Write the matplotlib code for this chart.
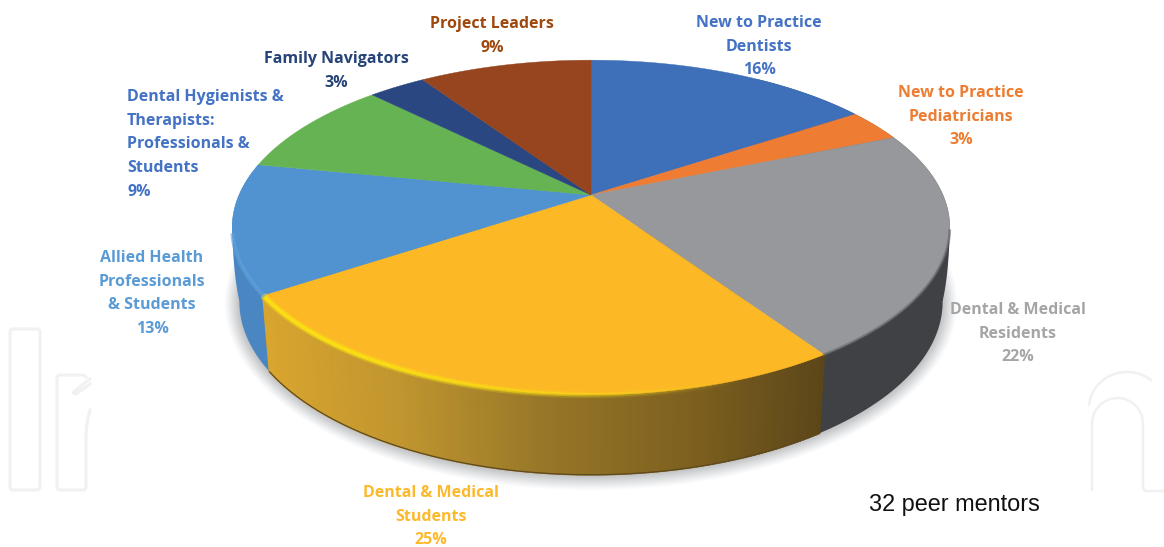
import numpy as np
import matplotlib
matplotlib.use("Agg")
import matplotlib.pyplot as plt
from matplotlib.collections import PolyCollection, LineCollection
from matplotlib.colors import to_rgb
from matplotlib.patches import FancyBboxPatch

# Head count of the 32 peer mentors per group, clockwise from twelve o'clock
groups = ["New to Practice\nDentists", "New to Practice\nPediatricians",
          "Dental & Medical\nResidents", "Dental & Medical\nStudents",
          "Allied Health\nProfessionals\n& Students",
          "Dental Hygienists &\nTherapists:\nProfessionals &\nStudents",
          "Family Navigators", "Project Leaders"]
mentors = [5, 1, 7, 8, 4, 3, 1, 3]
top_colors = ["#3e6fb9", "#ee7d33", "#96989b", "#fdb826",
              "#5093d0", "#66b354", "#2b4781", "#96451f"]
wall_colors = ["#2f5591", "#bd6228", "#3f4144", "#fdb826",
               "#4a86c1", "#4f8a40", "#203560", "#6f3316"]
text_colors = ["#4472c4", "#ed7d31", "#a5a5a5", "#fdb92c",
               "#5b9bd5", "#4472c4", "#264478", "#9e480e"]
label_x = [759, 961, 1018, 431, 152, 127, 336, 492]
label_y = [21, 91, 308, 491, 256, 95, 57, 22]
label_ha = ["center"] * 5 + ["left"] + ["center"] * 2
note = "32 peer mentors"

# Disc geometry in pixel space: a circle seen in perspective
CX, CY = 591, 195
RX, RY, K = 352, 161, 0.194
WALL_SX, WALL_SY, WALL_DY = 0.98, 1.035, 73


def top_rim(theta):
    sin_t, near = np.sin(theta), -np.cos(theta)
    den = 1 - K * near
    return CX + RX * sin_t / den, CY + RY * near / den


def bottom_rim(theta):
    x, y = top_rim(theta)
    return CX + (x - CX) * WALL_SX, CY + (y - CY) * WALL_SY + WALL_DY


def lerp_colors(stops, pos):
    xs = [s[0] for s in stops]
    rgb = np.array([to_rgb(s[1]) for s in stops])
    return np.column_stack([np.interp(pos, xs, rgb[:, i]) for i in range(3)])


def silhouette(ax, theta, pick, color):
    """Round off the wall outline between the widest points of both rims."""
    tx, ty = top_rim(theta)
    gx, gy = bottom_rim(theta)
    a = pick(tx)
    b = pick(gx)
    u = np.linspace(0, 1, 30)[:, None]
    p0, p2 = np.array([tx[a], ty[a]]), np.array([gx[b], gy[b]])
    p1 = np.array([p0[0] + (p2[0] - p0[0]) * 0.12, p2[1] - 28])
    curve = (1 - u) ** 2 * p0 + 2 * u * (1 - u) * p1 + u ** 2 * p2
    inner = np.array([CX, p2[1]])
    poly = np.vstack([curve, inner, [CX, p0[1]]])
    ax.fill(poly[:, 0], poly[:, 1], color=color, lw=0, zorder=1.9)


fig = plt.figure(figsize=(11.64, 5.47), dpi=100, facecolor="white")
ax = fig.add_axes([0, 0, 1, 1])
ax.set_xlim(0, 1164)
ax.set_ylim(547, 0)
ax.axis("off")

# Faint publisher lettering behind the chart
mark = "#f0f1f2"
ax.add_patch(FancyBboxPatch((10, 329), 30, 161, boxstyle="round,pad=0,rounding_size=3",
                            fc="none", ec=mark, lw=2.2, zorder=0))
ax.plot([86, 86, 84, 59, 57, 57, 59, 84, 86], [435, 488, 490, 490, 488, 377, 375, 375, 377],
        color=mark, lw=2.2, zorder=0)
ax.plot([90, 76, 73, 76, 90], [379, 390, 393, 394, 384], color=mark, lw=2.2, zorder=0)
ax.plot([90, 88, 86.5, 86], [410, 418, 428, 436], color=mark, lw=2.2, zorder=0)
arch = np.linspace(np.pi, 2 * np.pi, 40)
ax.plot(np.r_[1092, 1117.5 + 25.5 * np.cos(arch), 1143, 1145, 1164],
        np.r_[490, 424 + 26 * np.sin(arch), 488, 491, 491],
        color=mark, lw=1.8, zorder=0)
outer = np.linspace(np.pi * 1.03, np.pi * 1.72, 40)
ax.plot(1127 + 38 * np.cos(outer), 408 + 36 * np.sin(outer), color=mark, lw=1.8, zorder=0)

# Soft shadow under the disc
theta = np.linspace(0, 2 * np.pi, 361)
bx, by = bottom_rim(theta)
for grow, alpha in zip(np.linspace(14, 1, 12), np.linspace(0.03, 0.1, 12)):
    sx = CX + (bx - CX) * (1 + grow / 340)
    sy = 300 + (by + 1 - 300) * (1 + grow / 170)
    ax.fill(sx, sy, color="#9a9da2", alpha=alpha, lw=0, zorder=1)

edges = np.r_[0, np.cumsum(mentors)] / sum(mentors) * 2 * np.pi

# Rounded wall outline at both sides of the disc
silhouette(ax, theta, np.argmin, wall_colors[4])
silhouette(ax, theta, np.argmax, wall_colors[2])

# Side wall: solid sections for blue and gray, thin overlapping quads for the yellow gradient
for i in [2, 4]:
    t = np.linspace(edges[i] - (0.6 if i == 2 else 0), edges[i + 1], 160)
    tx, ty = top_rim(t)
    gx, gy = bottom_rim(t)
    ax.fill(np.r_[tx, gx[::-1]], np.r_[ty, gy[::-1]], color=wall_colors[i], lw=0, zorder=2)

t = np.linspace(edges[3], edges[4], 160)
tx, ty = top_rim(t)
gx, gy = bottom_rim(t)
quads = [[(tx[j], ty[j]), (tx[j + 1], ty[j + 1]), (gx[j + 1], gy[j + 1]), (gx[j], gy[j])]
         for j in range(len(t) - 1)]
stops = [(265, "#d8a52e"), (400, "#c0952f"), (540, "#977728"), (700, "#7c5f1f"), (825, "#5b4619")]
cols = lerp_colors(stops, (tx[:-1] + tx[1:]) / 2)
ax.add_collection(PolyCollection(quads, facecolors=cols, edgecolors=cols, linewidths=1.2, zorder=2))

# Dark line along the foot of the yellow wall
ax.plot(gx, gy, color="#5f4a1e", lw=0.9, zorder=2.5)

# Top face of the disc
for i in range(len(mentors)):
    t = np.linspace(edges[i], edges[i + 1], 120)
    tx, ty = top_rim(t)
    ax.fill(np.r_[CX, tx], np.r_[CY, ty], color=top_colors[i], lw=0.3, zorder=3)

# Bevel along the front edge of the top face
t = np.linspace(edges[3], edges[4], 200)
tx, ty = top_rim(t)
pts = np.column_stack([tx, ty])
segs = np.stack([pts[:-1], pts[1:]], axis=1)
fade = np.clip(1.2 - (tx[:-1] - 265) / 400, 0, 1)
ax.add_collection(LineCollection(segs, colors=[(0.98, 0.88, 0.08, 0.45 * f) for f in fade],
                                 linewidths=5.0, capstyle="butt", zorder=4))
ax.add_collection(LineCollection(segs, colors=[(0.98, 0.88, 0.08, f) for f in fade],
                                 linewidths=2.6, capstyle="butt", zorder=4))
t = np.linspace(edges[2], edges[3], 200)
tx, ty = top_rim(t)
keep = ty > 230
ax.plot(tx[keep], ty[keep], color="#5c5e61", lw=2.0, alpha=0.55, zorder=4)
t = np.linspace(edges[4], edges[5], 80)
tx, ty = top_rim(t)
keep = ty > 235
ax.plot(tx[keep], ty[keep], color="#61a3dd", lw=3, alpha=0.6, zorder=4)

# Category labels, percentages rounded half up from the head counts
for name, count, x, y, ha, col in zip(groups, mentors, label_x, label_y, label_ha, text_colors):
    pct = int(100 * count / sum(mentors) + 0.5)
    lines = name.split("\n") + [f"{pct}%"]
    for j, line in enumerate(lines):
        ax.text(x, y + 2 + j * 23.7, line, ha=ha, va="center", color=col, fontsize=11.55,
                family="Open Sans", fontweight="bold", zorder=6)

ax.text(954, 504, note, ha="center", va="center", color="#111111", fontsize=16.9,
        family="Liberation Sans", zorder=6)

fig.savefig("out.png", dpi=100, facecolor="white")
